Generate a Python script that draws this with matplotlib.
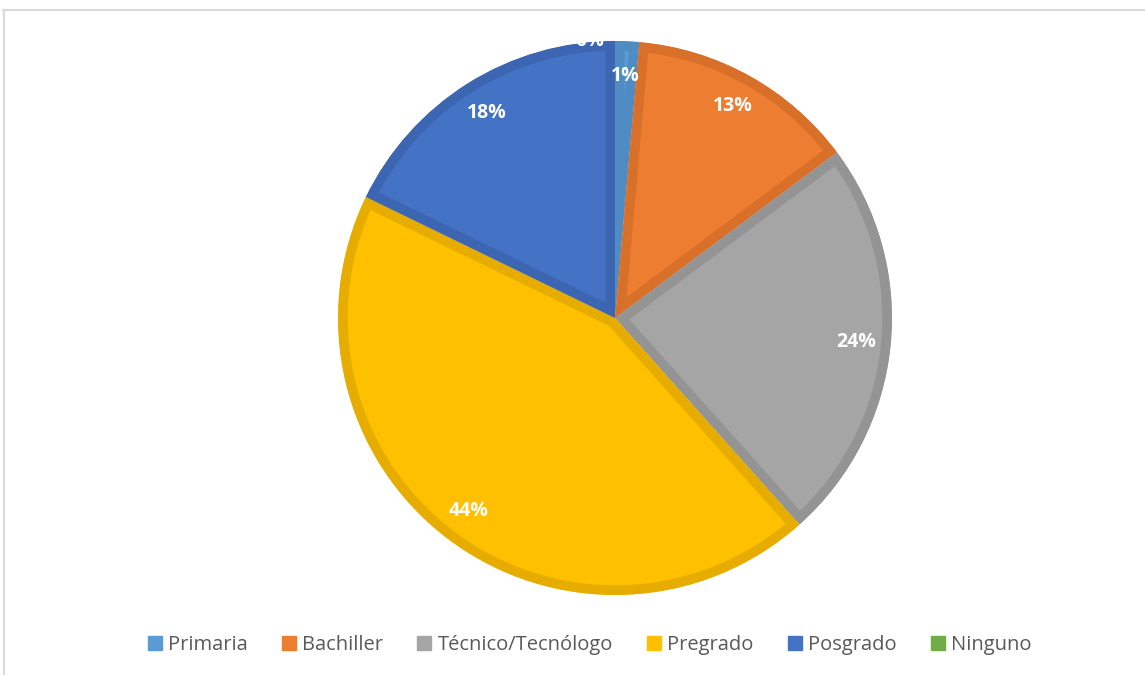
import matplotlib.pyplot as plt
from matplotlib.lines import Line2D

# nivel educativo (porcentaje)
niveles = ["Primaria", "Bachiller", "Técnico/Tecnólogo", "Pregrado", "Posgrado", "Ninguno"]
porcentajes = [1.4, 13.4, 23.6, 43.8, 17.8, 0.0]
colores = ["#5B9BD5", "#ED7D31", "#A5A5A5", "#FFC000", "#4472C4", "#70AD47"]
bordes = ["#4F8CC4", "#D8702A", "#949494", "#E6AD00", "#3D66B2", "#62993E"]

plt.rcParams['font.family'] = ['Open Sans', 'DejaVu Sans']

fig = plt.figure(figsize=(11.45, 6.75), dpi=100)
ax = fig.add_axes([338 / 1145, 80 / 675, 554 / 1145, 554 / 675])

wedges, texts, autotexts = ax.pie(
    porcentajes, colors=colores, startangle=90, counterclock=False,
    radius=1, autopct="%.0f%%", pctdistance=0.875,
    textprops=dict(color="white", fontsize=14, fontweight="bold"))

# inner border on each slice: stroke clipped to the slice itself
for w, b, p in zip(wedges, bordes, porcentajes):
    w.set_edgecolor(b)
    w.set_linewidth(14 if p > 0 else 0)
    w.set_clip_path(w)
    w.set_clip_on(True)

# the 0% label sits on the rim
autotexts[5].set_position((-0.09, 1.0))

ax.set_xlim(-1, 1)
ax.set_ylim(-1, 1)
ax.axis("off")

handles = [plt.Rectangle((0, 0), 1, 1, color=c) for c in colores]
leg = fig.legend(handles, niveles, loc="center", bbox_to_anchor=(0.515, 1 - 645 / 675),
                 ncol=6, frameon=False, fontsize=14.5, handlelength=0.7, handleheight=0.75,
                 handletextpad=0.3, columnspacing=1.7, labelcolor="#595959")

# chart area frame
fig.add_artist(Line2D([3 / 1145, 1], [1 - 10 / 675] * 2, color="#D9D9D9", lw=1.5))
fig.add_artist(Line2D([4 / 1145] * 2, [0, 1 - 10 / 675], color="#D9D9D9", lw=1.5))

fig.savefig("out.png", dpi=100)
